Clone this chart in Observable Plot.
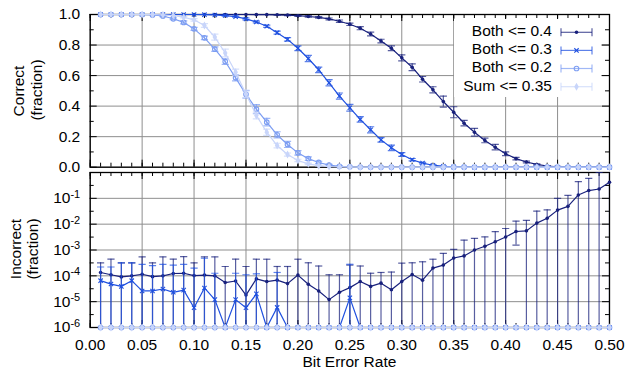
<!DOCTYPE html>
<html><head><meta charset="utf-8">
<script src="https://cdn.jsdelivr.net/npm/d3@7"></script>
<script src="https://cdn.jsdelivr.net/npm/@observablehq/plot@0.6"></script>
<style>
body{margin:0;background:#fff;}
#chart{position:relative;width:626px;height:375px;overflow:hidden;font-family:"Liberation Sans",Arial,Helvetica,sans-serif;font-size:15.5px;color:#000;}
#chart svg{position:absolute;left:0;overflow:visible;}
.lbl{position:absolute;white-space:nowrap;line-height:18px;transform:translate(-50%,-50%);}
.rot{transform:translate(-50%,-50%) rotate(-90deg);}
</style></head><body><div id="chart"></div>
<script>
// ---------- data ----------
const ber = [0.01,0.02,0.03,0.04,0.05,0.06,0.07,0.08,0.09,0.10,
             0.11,0.12,0.13,0.14,0.15,0.16,0.17,0.18,0.19,0.20,
             0.21,0.22,0.23,0.24,0.25,0.26,0.27,0.28,0.29,0.30,
             0.31,0.32,0.33,0.34,0.35,0.36,0.37,0.38,0.39,0.40,
             0.41,0.42,0.43,0.44,0.45,0.46,0.47,0.48,0.49,0.50];

const seriesNames = ["Both <= 0.4","Both <= 0.3","Both <= 0.2","Sum <= 0.35"];

// fraction correct
const correct04 = [1,1,1,1,1,1,1,1,1,1, 1,1,1,1,1,0.999,0.999,0.998,0.996,0.992,
  0.987,0.981,0.971,0.956,0.936,0.910,0.872,0.826,0.779,0.716,
  0.655,0.576,0.507,0.430,0.360,0.288,0.229,0.175,0.131,0.088,
  0.056,0.034,0.018,0.008,0.003,0.001,0,0,0,0];
const correct03 = [1,1,1,1,1,1,1,1,1,1, 0.999,0.997,0.993,0.986,0.971,0.951,0.923,0.881,0.837,0.779,
  0.712,0.638,0.553,0.466,0.389,0.313,0.245,0.179,0.127,0.083,
  0.049,0.027,0.013,0.006,0.002,0.001,0,0,0,0, 0,0,0,0,0,0,0,0,0,0];
const correct02 = [1,1,1,1,1,0.997,0.990,0.972,0.948,0.906,
  0.847,0.773,0.692,0.585,0.477,0.380,0.295,0.212,0.149,0.094,
  0.056,0.031,0.014,0.006,0.003,0.001,0,0,0,0, 0,0,0,0,0,0,0,0,0,0, 0,0,0,0,0,0,0,0,0,0];
const correctSum = [1,1,1,1,1,1,0.998,0.993,0.982,0.965,
  0.928,0.852,0.748,0.622,0.480,0.339,0.229,0.142,0.083,0.044,
  0.022,0.010,0.004,0.002,0.001,0,0,0,0,0, 0,0,0,0,0,0,0,0,0,0, 0,0,0,0,0,0,0,0,0,0];

// error (half-width) on fraction correct
const err04 = [0,0,0,0,0,0,0,0,0,0, 0,0,0,0,0,0,0,0.002,0.003,0.004,
  0.005,0.005,0.006,0.008,0.008,0.010,0.012,0.012,0.015,0.020,
  0.022,0.018,0.020,0.036,0.036,0.018,0.025,0.015,0.018,0.012,
  0.008,0.006,0.004,0.003,0.002,0,0,0,0,0];
const err03 = [0,0,0,0,0,0,0,0,0,0, 0,0,0.003,0.004,0.006,0.006,0.007,0.010,0.012,0.015,
  0.020,0.018,0.020,0.020,0.022,0.018,0.020,0.015,0.018,0.012,
  0.008,0.005,0.004,0.003,0,0,0,0,0,0, 0,0,0,0,0,0,0,0,0,0];
const err02 = [0,0,0,0,0,0,0.004,0.006,0.010,0.010,
  0.012,0.015,0.018,0.020,0.025,0.030,0.025,0.020,0.020,0.015,
  0.012,0.008,0.005,0.003,0,0,0,0,0,0, 0,0,0,0,0,0,0,0,0,0, 0,0,0,0,0,0,0,0,0,0];
const errSum = [0,0,0,0,0,0,0,0,0.005,0.008,
  0.012,0.020,0.025,0.020,0.025,0.022,0.020,0.015,0.010,0.008,
  0.005,0.003,0,0,0,0,0,0,0,0, 0,0,0,0,0,0,0,0,0,0, 0,0,0,0,0,0,0,0,0,0];

// fraction incorrect
const incorrect04 = [1.35e-4,1.1e-4,9.1e-5,1.0e-4,1.15e-4,9.3e-5,1.0e-4,1.23e-4,1.26e-4,1.02e-4,
  1.07e-4,1.0e-4,5.5e-5,6.3e-5,1.8e-5,7.6e-5,6.0e-5,6.8e-5,5.0e-5,1.07e-4,
  4.7e-5,2.6e-5,1.2e-5,2.3e-5,3.5e-5,6.0e-5,3.9e-5,5.2e-5,2.9e-5,6.0e-5,
  1.12e-4,6.8e-5,2.0e-4,2.6e-4,4.9e-4,5.9e-4,1.0e-3,1.4e-3,2.1e-3,3.2e-3,
  5.2e-3,5.5e-3,1.1e-2,1.7e-2,3.5e-2,4.9e-2,0.135,0.20,0.23,0.42];
const incorrect04Hi = [3.2e-4,4.4e-4,3.2e-4,3.2e-4,5.4e-4,3.2e-4,5.4e-4,4.4e-4,5.5e-4,3.2e-4,
  5.4e-4,5.4e-4,2.3e-4,4.4e-4,2.3e-4,4.4e-4,4.4e-4,2.3e-4,2.3e-4,4.4e-4,
  3.2e-4,2.4e-4,1.1e-4,1.1e-4,2.6e-4,2.4e-4,1.26e-4,1.35e-4,1.4e-4,3.1e-4,
  3.2e-4,3.5e-4,4.4e-4,7.4e-4,1.05e-3,2.4e-3,2.8e-3,3.2e-3,5.1e-3,6.8e-3,
  1.3e-2,1.4e-2,3.2e-2,3.6e-2,0.10,0.13,0.44,0.59,1.0,1.2];
const incorrect04Lo = [0,0,0,0,0,0,0,0,0,0, 0,0,0,0,0,0,0,0,0,0, 0,0,0,0,0,0,0,0,0,0, 0,0,0,0,0,0,0,0,0,0,
  1.55e-3,0,0,0,0,0,0,0,0,0];
const incorrect03 = [6.5e-5,4.8e-5,3.9e-5,6.5e-5,2.6e-5,2.6e-5,3.1e-5,2.3e-5,2.8e-5,5.8e-6,
  3.4e-5,1.2e-5,0,1.2e-5,5.8e-6,2.0e-5,0,6.0e-6,0,0,
  0,0,0,0,1.4e-5,0,0,0,0,0, 0,0,0,0,0,0,0,0,0,0, 0,0,0,0,0,0,0,0,0,0];
const incorrect03Hi = [2.2e-4,2.2e-4,3.2e-4,3.2e-4,2.8e-4,2.5e-4,2.8e-4,2.6e-4,2.8e-4,2.0e-4,
  4.8e-4,1.26e-4,0,1.26e-4,1.1e-4,1.2e-4,0,1.35e-4,0,0,
  0,0,0,0,2.8e-4,0,0,0,0,0, 0,0,0,0,0,0,0,0,0,0, 0,0,0,0,0,0,0,0,0,0];
const incorrect02 = [0,0,0,0,0,0,0,0,0,0, 0,0,0,0,0,0,0,0,0,0, 0,0,0,0,0,0,0,0,0,0, 0,0,0,0,0,0,0,0,0,0, 0,0,0,0,0,0,0,0,0,0];
const incorrectSum = [0,0,0,0,0,0,0,0,0,0, 0,0,0,0,0,0,0,0,0,0, 0,0,0,0,0,0,0,0,0,0, 0,0,0,0,0,0,0,0,0,0, 0,0,0,0,0,0,0,0,0,0];
const zeros50 = incorrectSum;

// ticks
const xMajor = [0,0.05,0.10,0.15,0.20,0.25,0.30,0.35,0.40,0.45,0.50];
const xMajorLabels = ["0.00","0.05","0.10","0.15","0.20","0.25","0.30","0.35","0.40","0.45","0.50"];
const yTopMajor = [0,0.2,0.4,0.6,0.8,1.0];
const yTopLabels = ["0.0","0.2","0.4","0.6","0.8","1.0"];
const yBotMajor = [1e-6,1e-5,1e-4,1e-3,1e-2,1e-1];
const yBotExp = ["-6","-5","-4","-3","-2","-1"];
const yBotMinor = [3.162e-6,3.162e-5,3.162e-4,3.162e-3,3.162e-2,3.162e-1];

// ---------- layout ----------
const W = 626, ML = 89.7, MR = 17;
const plotW = W - ML - MR;
const topH = 170, topMT = 14, topMB = 3.3, topPH = topH - topMT - topMB;
const botTop = 167, botH = 208, botMT = 5, botMB = 48, botPH = botH - botMT - botMB;
const FONT = '"Liberation Sans", Arial, Helvetica, sans-serif';
const GRID = "#8e8e8e";
const FLOOR = 1e-6;

const series = [
  {name: seriesNames[0], color:"#18207c", symbol:"circle", r:1.8, filled:true, correct:correct04, err:err04, inc:incorrect04, hi:incorrect04Hi, lo:incorrect04Lo},
  {name: seriesNames[1], color:"#1f50e0", symbol:"times", r:2.1, filled:false, correct:correct03, err:err03, inc:incorrect03, hi:incorrect03Hi, lo:zeros50},
  {name: seriesNames[2], color:"#7c9df2", symbol:"circle", r:2.3, filled:false, correct:correct02, err:err02, inc:incorrect02, hi:zeros50, lo:zeros50},
  {name: seriesNames[3], color:"#c8d5fa", symbol:"diamond", r:2.4, filled:true, correct:correctSum, err:errSum, inc:incorrectSum, hi:zeros50, lo:zeros50}
];

const capSym = {draw(ctx, size){ const w = Math.sqrt(size/Math.PI); ctx.moveTo(-w,0); ctx.lineTo(w,0); }};

function seriesMarks(s, rows, yFloor){
  const bars = rows.filter(d => d.hi > d.lo);
  const bs = {stroke:s.color, strokeWidth:1.2, strokeOpacity:0.72};
  return [
    Plot.ruleX(bars, {x:"x", y1:"lo", y2:"hi", ...bs, clip:true}),
    Plot.dot(bars, {x:"x", y:"hi", symbol:capSym, r:3.6, fill:"none", ...bs, clip:true}),
    Plot.dot(bars.filter(d => d.lo > yFloor), {x:"x", y:"lo", symbol:capSym, r:3.6, fill:"none", ...bs, clip:true}),
    Plot.line(rows, {x:"x", y:"y", stroke:s.color, strokeWidth:1.2}),
    Plot.dot(rows, {x:"x", y:"y", symbol:s.symbol, r:s.r,
      fill: s.filled ? s.color : "none", stroke: s.filled ? "none" : s.color, strokeWidth:1.1})
  ];
}
function xFrameTicks(ph){
  const minor = d3.ticks(0, 0.5, 50);
  return [
    Plot.tickX(minor, {x:d=>d, insetTop:ph-4, stroke:"#000"}),
    Plot.tickX(minor, {x:d=>d, insetBottom:ph-4, stroke:"#000"}),
    Plot.tickX(xMajor, {x:d=>d, insetTop:ph-7, stroke:"#000"}),
    Plot.tickX(xMajor, {x:d=>d, insetBottom:ph-7, stroke:"#000"})
  ];
}
function yFrameTicks(vals, len){
  return [
    Plot.tickY(vals, {y:d=>d, insetRight:plotW-len, stroke:"#000"}),
    Plot.tickY(vals, {y:d=>d, insetLeft:plotW-len, stroke:"#000"})
  ];
}
const style = {fontFamily:FONT, fontSize:"15.5px", color:"#000", background:"transparent", overflow:"visible"};

// ---------- top panel ----------
const topPlot = Plot.plot({
  width:W, height:topH, marginLeft:ML, marginRight:MR, marginTop:topMT, marginBottom:topMB,
  style,
  x:{type:"linear", domain:[0,0.5], axis:null},
  y:{type:"linear", domain:[0,1], axis:null},
  marks:[
    Plot.gridX(xMajor, {stroke:GRID, strokeOpacity:1}),
    Plot.gridY(yTopMajor, {stroke:GRID, strokeOpacity:1}),
    ...xFrameTicks(topPH),
    ...yFrameTicks([0.1,0.3,0.5,0.7,0.9], 4),
    ...yFrameTicks(yTopMajor, 7),
    Plot.axisY(yTopMajor, {anchor:"left", tickSize:0, tickPadding:10, label:null,
      tickFormat:d => yTopLabels[yTopMajor.indexOf(d)]}),
    Plot.frame({stroke:"#000", strokeWidth:1.3}),
    ...series.flatMap(s => seriesMarks(s,
      ber.map((x,i) => ({x, y:s.correct[i], lo:s.correct[i]-s.err[i], hi:s.correct[i]+s.err[i]})), -1))
  ]
});

// ---------- bottom panel ----------
const botPlot = Plot.plot({
  width:W, height:botH, marginLeft:ML, marginRight:MR, marginTop:botMT, marginBottom:botMB,
  style,
  x:{type:"linear", domain:[0,0.5], axis:null},
  y:{type:"log", domain:[1e-6,1], axis:null},
  marks:[
    Plot.gridX(xMajor, {stroke:GRID, strokeOpacity:1}),
    Plot.gridY(yBotMajor, {stroke:GRID, strokeOpacity:1}),
    ...xFrameTicks(botPH),
    ...yFrameTicks(yBotMinor, 4),
    ...yFrameTicks(yBotMajor, 7),
    Plot.axisY(yBotMajor, {anchor:"left", tickSize:0, tickPadding:10, label:null,
      tickFormat:d => "10^" + yBotExp[yBotMajor.indexOf(d)]}),
    Plot.axisX(xMajor, {anchor:"bottom", tickSize:0, tickPadding:11, label:null,
      tickFormat:d => xMajorLabels[xMajor.indexOf(d)]}),
    Plot.frame({stroke:"#000", strokeWidth:1.3}),
    ...series.flatMap(s => seriesMarks(s,
      ber.map((x,i) => ({x, y:Math.max(s.inc[i], FLOOR), lo:Math.max(s.lo[i], FLOOR), hi:s.hi[i]})), FLOOR))
  ]
});

const chart = document.getElementById("chart");
topPlot.style.top = "0px";
botPlot.style.top = botTop + "px";
chart.appendChild(topPlot);
chart.appendChild(botPlot);

// superscript exponents on log axis labels
botPlot.querySelectorAll('g[aria-label="y-axis tick label"] text').forEach(t => {
  const parts = t.textContent.split("^");
  if (parts.length < 2) return;
  t.textContent = parts[0];
  const ts = document.createElementNS("http://www.w3.org/2000/svg", "tspan");
  ts.setAttribute("dy", "-0.5em");
  ts.setAttribute("font-size", "11px");
  ts.textContent = parts[1];
  t.appendChild(ts);
});

// ---------- titles ----------
function label(text, x, y, rot){
  const d = document.createElement("div");
  d.className = "lbl" + (rot ? " rot" : "");
  d.style.left = x + "px"; d.style.top = y + "px";
  d.textContent = text;
  chart.appendChild(d);
}
label("Correct", 18.5, 91, true);
label("(fraction)", 37, 90, true);
label("Incorrect", 16, 249, true);
label("(fraction)", 33, 249, true);
label("Bit Error Rate", 349.4, 362, false);

// ---------- legend ----------
const leg = d3.select(chart).append("svg")
  .attr("width", W).attr("height", 375).style("top","0px").style("pointer-events","none");
leg.append("rect").attr("x",454).attr("y",19).attr("width",147).attr("height",78).attr("fill","#fff");
const legY = [32.3, 50.4, 68.5, 86.7];
const symMap = {circle:d3.symbolCircle, times:d3.symbolTimes, diamond:d3.symbolDiamond};
series.forEach((s, i) => {
  const y = legY[i];
  leg.append("text").attr("x",552).attr("y",y+3.8).attr("text-anchor","end")
    .attr("font-family",FONT).attr("font-size","15.5px").attr("fill","#000").text(s.name);
  const g = leg.append("g").attr("stroke", s.color).attr("stroke-width",1.2).attr("stroke-opacity",0.72);
  g.append("line").attr("x1",561).attr("x2",592).attr("y1",y).attr("y2",y);
  g.append("line").attr("x1",561).attr("x2",561).attr("y1",y-4).attr("y2",y+4);
  g.append("line").attr("x1",592).attr("x2",592).attr("y1",y-4).attr("y2",y+4);
  leg.append("path").attr("transform",`translate(576.5,${y})`)
    .attr("d", d3.symbol(symMap[s.symbol], s.r*s.r*Math.PI)())
    .attr("fill", s.filled ? s.color : "none").attr("stroke", s.filled ? "none" : s.color).attr("stroke-width",1.1);
});
</script>
</body></html>
